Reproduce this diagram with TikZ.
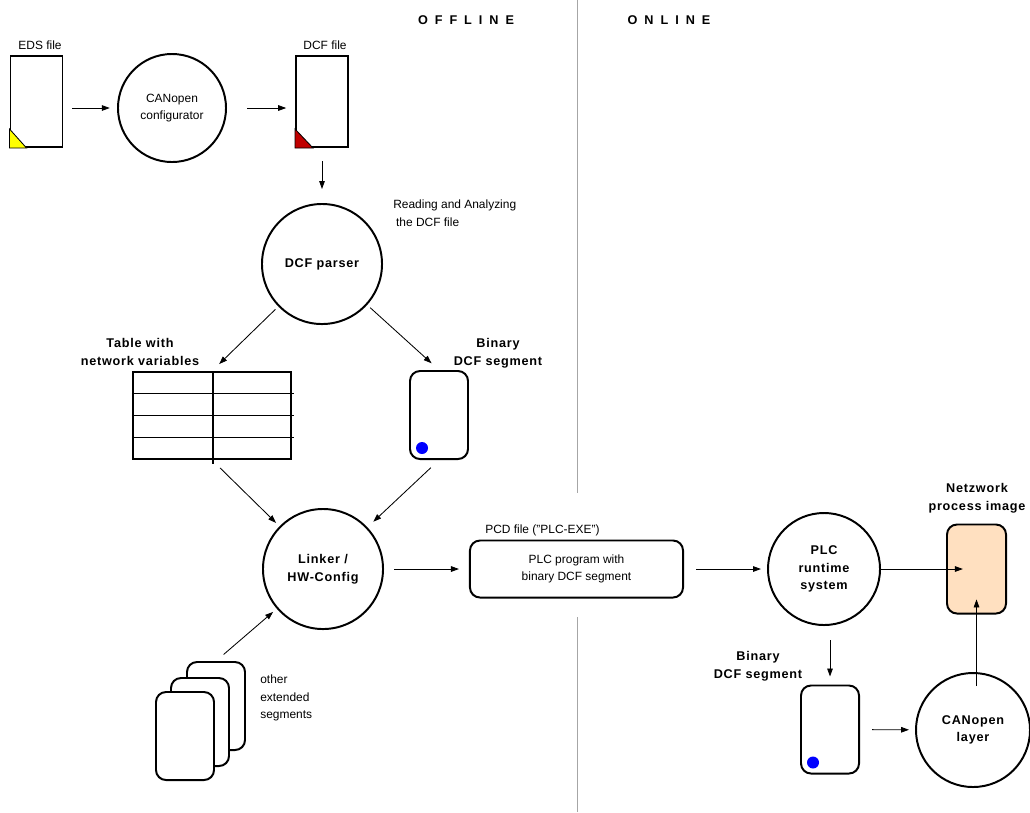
\documentclass[tikz,border=0pt]{standalone}
\usepackage{fontspec}
\setmainfont{Liberation Sans}
\newfontfamily\spacedfont[LetterSpace=6]{Liberation Sans}
\newfontfamily\headfont[LetterSpace=55]{Liberation Sans}
\usepackage{tikz}
\usetikzlibrary{arrows.meta, positioning, calc}
\definecolor{tipyellow}{RGB}{255,255,0}
\definecolor{tipred}{RGB}{192,0,0}
\definecolor{dotblue}{RGB}{0,0,255}
\definecolor{imagefill}{RGB}{255,224,192}
\newcommand{\capfont}{\fontsize{8.5}{12.5}\selectfont}
\newcommand{\capbold}{\spacedfont\bfseries\fontsize{9}{12.5}\selectfont}
\tikzset{
  docfile/.style={rectangle, draw, line width=1.4pt, fill=white,
                  minimum width=1.3cm, minimum height=2.275cm, inner sep=0pt},
  segcard/.style={rectangle, draw, line width=1.4pt, fill=white, rounded corners=0.25cm,
                  minimum width=1.45cm, minimum height=2.2cm, inner sep=0pt},
  process/.style={circle, draw, line width=1.4pt, minimum size=3cm, inner sep=0pt,
                  align=center, font=\capbold},
  arrow/.style={-{Triangle[length=2mm, width=1.4mm]}, line width=0.6pt},
  caption/.style={font=\capfont, align=center, inner sep=0pt},
  boldcaption/.style={font=\capbold, align=center, inner sep=0pt},
  headline/.style={font=\headfont\bfseries\fontsize{9}{11}\selectfont, inner sep=0pt},
}
\begin{document}
\begin{tikzpicture}[x=0.025cm, y=-0.025cm]
  \useasboundingbox (0,0) rectangle (1030,812);

  % Offline / online split
  \draw[gray!70, line width=0.5pt] (577,0) -- (577,493);
  \draw[gray!70, line width=0.5pt] (577,617) -- (577,812);
  \node[headline] (offline) at (466,20) {OFFLINE};
  \node[headline] (online) at (669,20) {ONLINE};

  % Configuration files
  \node[docfile] (eds) at (36.5,101.5) {};
  \filldraw[fill=tipyellow, line width=0.6pt] (eds.south west) -- ++(0,-19) -- ++(17,19) -- cycle;
  \node[caption] (edslabel) at (40,45) {EDS file};
  \node[process, minimum size=2.7cm, font=\capfont] (config) at (172,108) {CANopen\\configurator};
  \node[docfile] (dcf) at (322,101.5) {};
  \filldraw[fill=tipred, line width=0.6pt] (dcf.south west) -- ++(0,-19) -- ++(18,19) -- cycle;
  \node[caption] (dcflabel) at (325,45) {DCF file};

  % Parser
  \node[process] (parser) at (322,264) {DCF parser};
  \node[caption, align=left, anchor=west] (readlabel) at (393,213)
    {Reading and Analyzing\\\hspace*{2pt}the DCF file};

  % Table with network variables
  \node[rectangle, draw, line width=1.4pt, minimum width=3.95cm, minimum height=2.175cm,
        inner sep=0pt] (table) at (212,415.5) {};
  \draw[line width=0.8pt] ([xshift=0.025cm]table.north) -- ([xshift=0.025cm, yshift=-0.1cm]table.south);
  \foreach \i in {1,2,3}
    \draw[line width=0.8pt] ($(table.north west)!\i/4!(table.south west)$) -- ++(162,0);
  \node[boldcaption] (tablelabel) at (140,352) {Table with\\network variables};

  % Binary DCF segment
  \node[segcard] (seg1) at (439,415) {};
  \fill[dotblue] ([shift={(13,-12)}]seg1.south west) circle (0.15cm);
  \node[boldcaption] (seg1label) at (498,353) {Binary\\DCF segment};

  % Linker and other segments
  \node[process] (linker) at (323,569) {Linker /\\HW-Config};
  \node[segcard] (card3) at (216,706) {};
  \node[segcard] (card2) at (200,722) {};
  \node[segcard] (card1) at (185,736) {};
  \node[caption, align=left, anchor=west] (otherlabel) at (260,698) {other\\extended\\segments};

  % PCD file
  \node[rectangle, draw, line width=1.4pt, rounded corners=0.25cm, minimum width=5.325cm,
        minimum height=1.425cm, align=center, font=\capfont] (plc) at (576.5,569)
        {PLC program with\\binary DCF segment};
  \node[caption, anchor=west] (pcdlabel) at (485,530) {PCD file ("PLC-EXE")};

  % Online side
  \node[process, minimum size=2.8cm] (runtime) at (824,569) {PLC\\runtime\\system};
  \node[segcard, minimum width=1.475cm, minimum height=2.225cm, fill=imagefill] (netbox) at (976.5,569) {};
  \node[boldcaption] (netlabel) at (977,498) {Netzwork\\process image};
  \node[segcard] (seg2) at (830,729.5) {};
  \fill[dotblue] ([shift={(13,-12)}]seg2.south west) circle (0.15cm);
  \node[boldcaption] (seg2label) at (758,666) {Binary\\DCF segment};
  \node[process, minimum size=2.85cm] (layer) at (973,730) {CANopen\\layer};

  % Arrows
  \draw[arrow, shorten <=0.22cm, shorten >=0.18cm] (eds.east |- config) -- (config.west);
  \draw[arrow, shorten <=0.5cm, shorten >=0.22cm] (config.east) -- (dcf.west |- config);
  \draw[arrow, shorten <=0.33cm, shorten >=0.35cm] (dcf) -- (parser);
  \draw[arrow, shorten <=0.1cm, shorten >=0.25cm] (parser) -- (table.north);
  \draw[arrow, shorten <=0.1cm, shorten >=0.25cm] (parser) -- (seg1.north);
  \draw[arrow, shorten <=0.28cm, shorten >=0.12cm] (table.south) -- (linker);
  \draw[arrow, shorten <=0.28cm, shorten >=0.2cm] (seg1.south) -- (linker);
  \draw[arrow, shorten <=0.25cm, shorten >=0.12cm] (card3.north) -- (linker);
  \draw[arrow, shorten <=0.25cm, shorten >=0.25cm] (linker) -- (plc);
  \draw[arrow, shorten <=0.3cm, shorten >=0.15cm] (plc) -- (runtime);
  \draw[arrow, shorten >=0.34cm] (runtime) -- (netbox.center);
  \draw[arrow, shorten <=0.35cm, shorten >=0.2cm] (runtime.south -| seg2) -- (seg2.north);
  \draw[arrow, shorten <=0.3cm, shorten >=0.15cm] (seg2) -- (layer);
  \draw[arrow] ([yshift=-0.35cm]layer.north -| netbox) -- ([yshift=-0.76cm]netbox.center);
\end{tikzpicture}
\end{document}
